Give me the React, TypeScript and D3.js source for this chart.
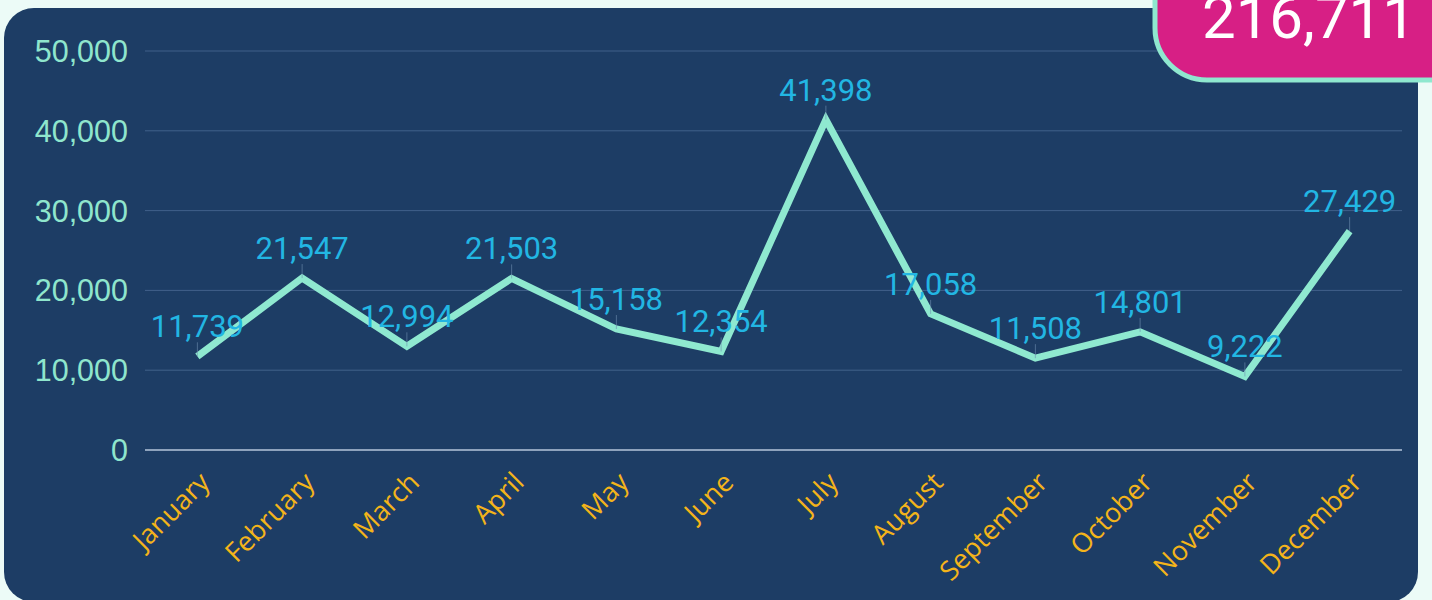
import React from "react";
import * as d3 from "d3";

const months = ["January","February","March","April","May","June","July","August","September","October","November","December"];
const values = [11739, 21547, 12994, 21503, 15158, 12354, 41398, 17058, 11508, 14801, 9222, 27429];
const yTicks = [0, 10000, 20000, 30000, 40000, 50000];

const W = 1432, H = 600;
const plot = { left: 145, right: 1402, top: 51, bottom: 450 };

export default function App() {
  const x = d3.scalePoint<string>().domain(months).range([plot.left, plot.right]).padding(0.5);
  const y = d3.scaleLinear().domain([0, 50000]).range([plot.bottom, plot.top]);
  const fmt = d3.format(",");
  const line = d3.line<number>().x((_, i) => x(months[i])!).y((d) => y(d));
  const total = d3.sum(values);

  return (
    <svg width={W} height={H} style={{ position: "absolute", left: 0, top: 0, display: "block" }}>
      <rect x={0} y={0} width={W} height={H} fill="#ecfbf7" />
      <rect x={4} y={8} width={1414} height={594} rx={30} fill="#1d3d65" />
      {yTicks.map((t) => (
        <g key={t}>
          <line x1={plot.left} x2={plot.right} y1={y(t)} y2={y(t)}
            stroke={t === 0 ? "#8ea3bd" : "#41618a"} strokeWidth={t === 0 ? 2 : 1} />
          <text x={128} y={y(t)} dy="0.36em" textAnchor="end" fill="#8fe6cd"
            fontFamily="'Liberation Sans', Arial, sans-serif" fontSize={30.5}>{fmt(t)}</text>
        </g>
      ))}
      {months.map((m) => (
        <text key={m} transform={`translate(${x(m)! + 14},${plot.bottom + 34}) rotate(-45)`}
          textAnchor="end" fill="#f4b41a" fontFamily="'Open Sans', Lato, sans-serif" fontSize={27}>{m}</text>
      ))}
      <path d={line(values)!} fill="none" stroke="#8fe9d0" strokeWidth={7} strokeLinejoin="miter" />
      {values.map((v, i) => (
        <g key={i}>
          <line x1={x(months[i])} x2={x(months[i])} y1={y(v) - 14} y2={y(v)} stroke="#6f8fb0" strokeWidth={1} opacity={0.6} />
          <text x={x(months[i])} y={y(v) - 19} textAnchor="middle" fill="#22b6e3"
            fontFamily="Roboto, sans-serif" fontSize={31}>{fmt(v)}</text>
        </g>
      ))}
      <rect x={1155} y={-60} width={330} height={140} rx={52} fill="#d71f85" stroke="#8fe8cf" strokeWidth={5} />
      <text x={1309} y={38} textAnchor="middle" fill="#ffffff" fontFamily="Roboto, sans-serif" fontSize={60}>{fmt(total)}</text>
    </svg>
  );
}
